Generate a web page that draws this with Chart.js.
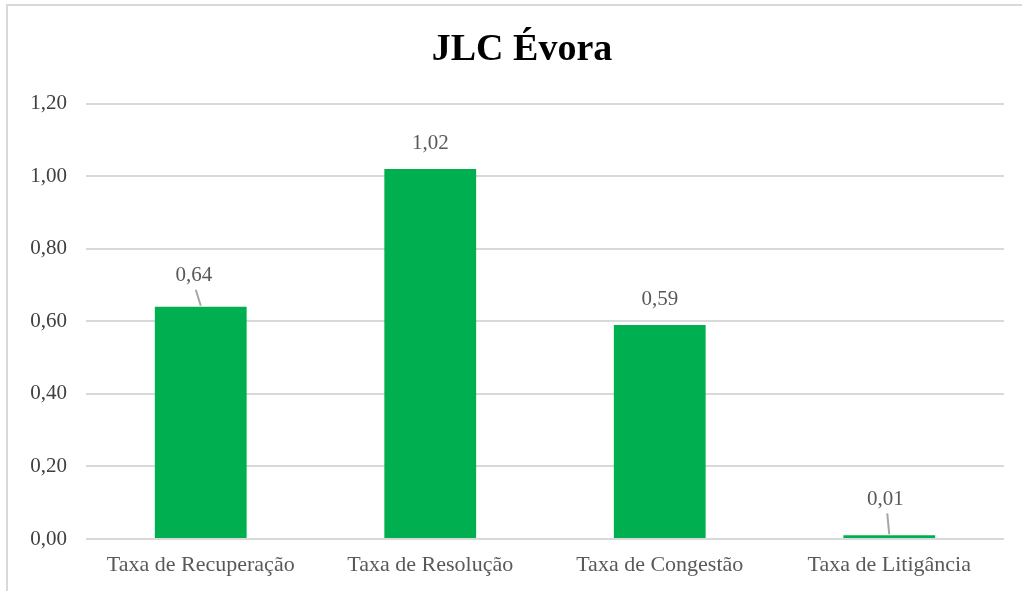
<!DOCTYPE html>
<html>
<head>
<meta charset="utf-8">
<script src="https://cdn.jsdelivr.net/npm/chart.js@4/dist/chart.umd.min.js"></script>
<style>
html,body{margin:0;padding:0;background:#fff;}
#c{display:block;}
</style>
</head>
<body>
<canvas id="c" width="1022" height="591"></canvas>
<script>
const chartTitle = "JLC Évora";
const categories = ["Taxa de Recuperação", "Taxa de Resolução", "Taxa de Congestão", "Taxa de Litigância"];
const values = [0.64, 1.02, 0.59, 0.01];
const yTicks = [0, 0.2, 0.4, 0.6, 0.8, 1.0, 1.2];

// label placement style (offsets from bar top, leader line flag)
const labelStyle = [
  {dx: -7, dy: -31, leader: true},
  {dx: 0, dy: -25, leader: false},
  {dx: 0, dy: -25, leader: false},
  {dx: -4, dy: -36, leader: true}
];

const fmt = v => v.toFixed(2).replace('.', ',');
const serif = "'Liberation Serif', 'Times New Roman', serif";

const framePlugin = {
  id: 'frame',
  afterLayout(chart) {
    // centre the title on the chart frame rather than on the padded area
    if (chart.titleBlock) chart.titleBlock.left += 30;
  },
  beforeDraw(chart) {
    const ctx = chart.ctx;
    ctx.save();
    ctx.fillStyle = '#fff';
    ctx.fillRect(0, 0, chart.width, chart.height);
    ctx.strokeStyle = '#d9d9d9';
    ctx.lineWidth = 2;
    ctx.beginPath();
    ctx.moveTo(7, chart.height);
    ctx.lineTo(7, 5);
    ctx.lineTo(chart.width, 5);
    ctx.stroke();
    ctx.restore();
  }
};

const labelPlugin = {
  id: 'barLabels',
  afterDatasetsDraw(chart) {
    const ctx = chart.ctx;
    const meta = chart.getDatasetMeta(0);
    ctx.save();
    ctx.font = "21px " + serif;
    ctx.fillStyle = '#595959';
    ctx.textAlign = 'center';
    ctx.textBaseline = 'middle';
    meta.data.forEach((bar, i) => {
      const st = labelStyle[i];
      const lx = bar.x + st.dx, ly = bar.y + st.dy;
      ctx.fillText(fmt(values[i]), lx, ly);
      if (st.leader) {
        ctx.strokeStyle = '#a6a6a6';
        ctx.lineWidth = 2;
        ctx.beginPath();
        ctx.moveTo(lx + 2, ly + 14);
        ctx.lineTo(bar.x, bar.y - 1);
        ctx.stroke();
      }
    });
    ctx.restore();
  }
};

new Chart(document.getElementById('c'), {
  type: 'bar',
  data: {
    labels: categories,
    datasets: [{
      data: values,
      backgroundColor: '#00b050',
      borderWidth: 0,
      categoryPercentage: 0.4,
      barPercentage: 1.0
    }]
  },
  options: {
    responsive: false,
    animation: false,
    events: [],
    layout: {padding: {left: 10, right: 18, top: 4, bottom: 0}},
    plugins: {
      legend: {display: false},
      tooltip: {enabled: false},
      title: {
        display: true,
        text: chartTitle,
        color: '#000',
        font: {family: serif, size: 38, weight: 'bold'},
        padding: {top: 23, bottom: 31}
      }
    },
    scales: {
      x: {
        grid: {display: false, drawTicks: false},
        border: {display: false},
        afterFit(scale) { scale.height = 52; },
        ticks: {
          color: '#595959',
          font: {family: serif, size: 22},
          padding: 13,
          maxRotation: 0
        }
      },
      y: {
        min: 0,
        max: 1.2,
        afterBuildTicks(scale) { scale.ticks = yTicks.map(v => ({value: v})); },
        afterFit(scale) { scale.width = 76; },
        grid: {color: '#d9d9d9', lineWidth: 2, drawTicks: false},
        border: {display: false},
        ticks: {
          color: '#404040',
          font: {family: serif, size: 21},
          padding: 19,
          callback: v => fmt(v)
        }
      }
    }
  },
  plugins: [framePlugin, labelPlugin]
});
</script>
</body>
</html>
